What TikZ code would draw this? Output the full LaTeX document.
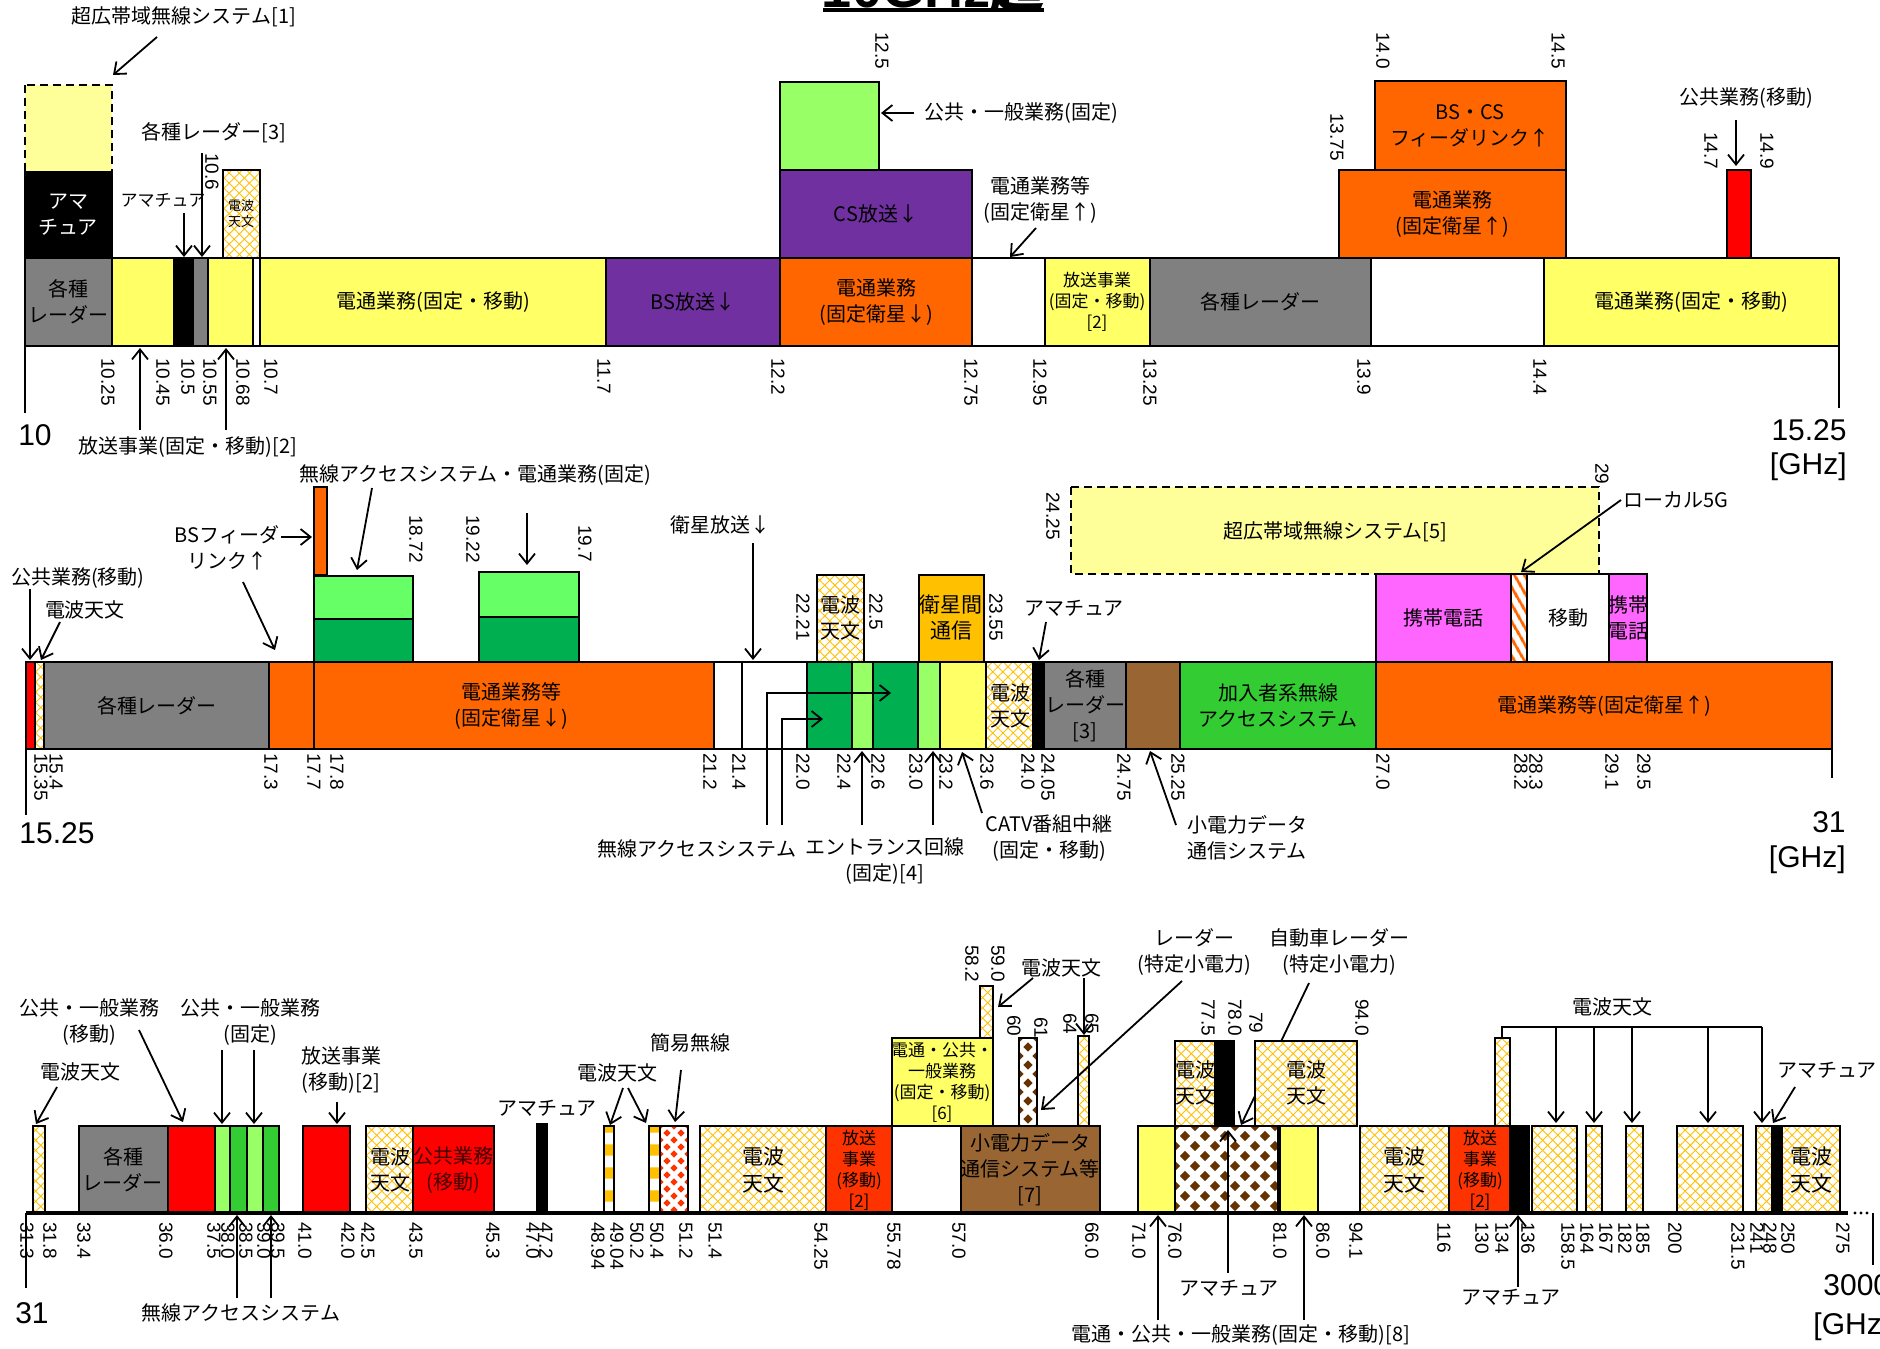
\documentclass[tikz,border=0pt]{standalone}
\usepackage{fontspec}
\setmainfont{Liberation Sans}
\newfontfamily\jpfont{Noto Sans CJK JP}
\usepackage{tikz}
\usetikzlibrary{arrows.meta,patterns,patterns.meta}
\definecolor{bandyellow}{HTML}{FFFF66}
\definecolor{bandgray}{HTML}{808080}
\definecolor{bandpurple}{HTML}{7030A0}
\definecolor{bandorange}{HTML}{FF6600}
\definecolor{bandred}{HTML}{FF0000}
\definecolor{bandvermil}{HTML}{FF3300}
\definecolor{bandlime}{HTML}{99FF66}
\definecolor{bandlgreen}{HTML}{66FF66}
\definecolor{banddgreen}{HTML}{00B050}
\definecolor{bandgreen}{HTML}{33CC33}
\definecolor{bandbrown}{HTML}{996633}
\definecolor{banddbrown}{HTML}{663300}
\definecolor{bandpink}{HTML}{FF66FF}
\definecolor{bandgold}{HTML}{FFC000}
\definecolor{bandpale}{HTML}{FFFF99}
\definecolor{hatchc}{HTML}{FFC000}

% diamond lattice: x1,y1,x2,y2,colour,period
\newcommand{\diapat}[6]{%
  \begin{scope}
    \clip (#1,#2) rectangle (#3,#4);
    \fill[white] (#1,#2) rectangle (#3,#4);
    \pgfmathtruncatemacro\dnx{(#3-#1)/#6+1}
    \pgfmathtruncatemacro\dny{(#4-#2)/#6+1}
    \foreach \i in {0,...,\dnx}{
      \foreach \j in {0,...,\dny}{
        \fill[#5] ({#1+\i*#6},{#2+\j*#6-0.26*#6}) -- ++(0.26*#6,0.26*#6)
          -- ++(-0.26*#6,0.26*#6) -- ++(-0.26*#6,-0.26*#6) -- cycle;
        \fill[#5] ({#1+(\i+0.5)*#6},{#2+(\j+0.5)*#6-0.26*#6}) -- ++(0.26*#6,0.26*#6)
          -- ++(-0.26*#6,0.26*#6) -- ++(-0.26*#6,-0.26*#6) -- cycle;
      }}
  \end{scope}
  \draw[box] (#1,#2) rectangle (#3,#4);}

\begin{document}
\begin{tikzpicture}[
  x=0.5pt, y=-0.5pt,
  font=\jpfont\fontsize{10}{13}\selectfont,
  box/.style={draw=black, line width=1pt},
  dbox/.style={draw=black, line width=1pt, dash pattern=on 4pt off 2.5pt, fill=bandpale},
  radio/.style={preaction={fill=white},
    preaction={pattern={Lines[angle=45,distance=3.6pt,line width=.45pt]}, pattern color=hatchc},
    preaction={pattern={Lines[angle=-45,distance=3.6pt,line width=.45pt]}, pattern color=hatchc},
    draw=black, line width=1pt},
  chk/.style={preaction={fill=white}, preaction={pattern=checkerboard, pattern color=hatchc},
    draw=black, line width=1pt},
  stripe/.style={preaction={fill=white},
    preaction={pattern={Lines[angle=-60,distance=4pt,line width=1.5pt]}, pattern color=bandorange},
    draw=black, line width=1pt},
  lbl/.style={align=center, inner sep=0pt},
  sm/.style={font=\jpfont\fontsize{8.5}{10.5}\selectfont},
  num/.style={rotate=-90, anchor=west, inner sep=0pt, font=\normalfont\fontsize{9.5}{10}\selectfont},
  big/.style={inner sep=0pt, font=\normalfont\fontsize{15}{18}\selectfont},
  arr/.style={-{Straight Barb[length=5pt,width=8pt]}, line width=0.9pt},
]
\useasboundingbox (0,0) rectangle (1880,1349);
\node[anchor=base, inner sep=0pt, font=\normalfont\bfseries\fontsize{27}{30}\selectfont]
  (title) at (933,7) {10GHz{\jpfont 超}};
\draw[line width=1.8pt] (823,10) -- (1044,10);

% Row 1: 10 - 15.25 GHz
\draw[box, fill=bandgray] (25,258) rectangle (112,346);
\draw[box, fill=bandyellow] (112,258) rectangle (174,346);
\draw[box, fill=black] (174,258) rectangle (193,346);
\draw[box, fill=bandgray] (193,258) rectangle (208,346);
\draw[box, fill=bandyellow] (208,258) rectangle (253,346);
\draw[box, fill=white] (253,258) rectangle (260,346);
\draw[box, fill=bandyellow] (260,258) rectangle (606,346);
\draw[box, fill=bandpurple] (606,258) rectangle (780,346);
\draw[box, fill=bandorange] (780,258) rectangle (972,346);
\draw[box, fill=white] (972,258) rectangle (1045,346);
\draw[box, fill=bandyellow] (1045,258) rectangle (1150,346);
\draw[box, fill=bandgray] (1150,258) rectangle (1371,346);
\draw[box, fill=white] (1371,258) rectangle (1544,346);
\draw[box, fill=bandyellow] (1544,258) rectangle (1839,346);
\draw[dbox] (25,85) rectangle (112,172);
\draw[box, fill=black] (25,172) rectangle (112,258);
\draw[radio] (223,170) rectangle (260,258);
\draw[box, fill=bandlime] (780,82) rectangle (879,170);
\draw[box, fill=bandpurple] (780,170) rectangle (972,258);
\draw[box, fill=bandorange] (1339,170) rectangle (1566,258);
\draw[box, fill=bandorange] (1375,81) rectangle (1566,170);
\draw[box, fill=bandred] (1727,170) rectangle (1751,258);
\draw[line width=1pt] (25,346) -- (25,413);
\draw[line width=1pt] (1839,346) -- (1839,408);

\node[lbl] (r1gray) at (68,302) {各種\\レーダー};
\node[lbl, text=white] (r1ama) at (68,215) {アマ\\チュア};
\node[lbl, font=\jpfont\fontsize{6.5}{8}\selectfont] (r1ra) at (241,214) {電波\\天文};
\node[lbl] (r1fm) at (433,302) {電通業務(固定・移動)};
\node[lbl] (r1bs) at (693,302) {BS放送↓};
\node[lbl] (r1fsd) at (876,302) {電通業務\\(固定衛星↓)};
\node[lbl] (r1cs) at (876,214) {CS放送↓};
\node[lbl, sm] (r1bc) at (1097,302) {放送事業\\(固定・移動)\\{[2]}};
\node[lbl] (r1rad) at (1260,302) {各種レーダー};
\node[lbl] (r1fsu) at (1452,214) {電通業務\\(固定衛星↑)};
\node[lbl] (r1feed) at (1470,126) {BS・CS\\フィーダリンク↑};
\node[lbl] (r1fm2) at (1691,302) {電通業務(固定・移動)};

\node[lbl] (uwb1) at (184,17) {超広帯域無線システム[1]};
\draw[arr] (157,37) -- (113,75);
\node[lbl] (rad1) at (214,133) {各種レーダー[3]};
\node[lbl, sm] (ama1) at (163,200) {アマチュア};
\draw[arr] (184,213) -- (184,257);
\draw[arr] (202,153) -- (202,257);
\node[lbl] (bc1) at (188,447) {放送事業(固定・移動)[2]};
\draw[arr] (140,430) -- (140,348);
\draw[arr] (226,430) -- (226,348);
\node[lbl] (pub1) at (1021,113) {公共・一般業務(固定)};
\draw[arr] (914,113) -- (881,113);
\node[lbl] (fsu1) at (1040,200) {電通業務等\\(固定衛星↑)};
\draw[arr] (1036,228) -- (1010,257);
\node[lbl] (pubm1) at (1746,98) {公共業務(移動)};
\draw[arr] (1736,120) -- (1736,166);

\foreach \x/\t in {108/10.25,163/10.45,188/10.5,210/10.55,243/10.68,271/10.7,604/11.7,
  778/12.2,971/12.75,1040/12.95,1150/13.25,1364/13.9,1540/14.4}
  \node[num] (r1b\x) at (\x,358) {\t};
\foreach \x/\y/\t in {212/153/10.6,882/32/12.5,1383/32/14.0,1558/32/14.5,1337/113/13.75,
  1711/132/14.7,1767/132/14.9}
  \node[num] (r1u\x) at (\x,\y) {\t};
\node[big] (r1lo) at (35,435) {10};
\node[big, anchor=east] (r1hi) at (1847,430) {15.25};
\node[big, anchor=east] (r1ghz) at (1847,467) {[GHz]};

% Row 2: 15.25 - 31 GHz
\draw[dbox] (1071,487) rectangle (1599,574);
\draw[box, fill=bandred] (26,662) rectangle (35,749);
\draw[radio] (35,662) rectangle (44,749);
\draw[box, fill=bandgray] (44,662) rectangle (269,749);
\draw[box, fill=bandorange] (269,662) rectangle (314,749);
\draw[box, fill=bandorange] (314,662) rectangle (714,749);
\draw[box, fill=white] (714,662) rectangle (742,749);
\draw[box, fill=white] (742,662) rectangle (807,749);
\draw[box, fill=banddgreen] (807,662) rectangle (852,749);
\draw[box, fill=bandlime] (852,662) rectangle (873,749);
\draw[box, fill=banddgreen] (873,662) rectangle (918,749);
\draw[box, fill=bandlime] (918,662) rectangle (940,749);
\draw[box, fill=bandyellow] (940,662) rectangle (986,749);
\draw[radio] (986,662) rectangle (1033,749);
\draw[box, fill=black] (1033,662) rectangle (1044,749);
\draw[box, fill=bandgray] (1044,662) rectangle (1126,749);
\draw[box, fill=bandbrown] (1126,662) rectangle (1180,749);
\draw[box, fill=bandgreen] (1180,662) rectangle (1376,749);
\draw[box, fill=bandorange] (1376,662) rectangle (1832,749);
\draw[box, fill=bandorange] (314,487) rectangle (327,575);
\draw[box, fill=bandlgreen] (314,576) rectangle (413,619);
\draw[box, fill=banddgreen] (314,619) rectangle (413,662);
\draw[box, fill=bandlgreen] (479,572) rectangle (579,617);
\draw[box, fill=banddgreen] (479,617) rectangle (579,662);
\draw[radio] (817,575) rectangle (864,662);
\draw[box, fill=bandgold] (919,575) rectangle (984,662);
\draw[box, fill=bandpink] (1376,574) rectangle (1511,662);
\draw[stripe] (1511,574) rectangle (1527,662);
\draw[box, fill=white] (1527,574) rectangle (1609,662);
\draw[box, fill=bandpink] (1609,574) rectangle (1647,662);
\draw[line width=1pt] (26,749) -- (26,815);
\draw[line width=1pt] (1832,749) -- (1832,778);

\node[lbl] (r2rad) at (157,706) {各種レーダー};
\node[lbl] (r2fsd) at (511,706) {電通業務等\\(固定衛星↓)};
\node[lbl] (r2ra) at (1010,706) {電波\\天文};
\node[lbl] (r2rad3) at (1085,706) {各種\\レーダー\\{[3]}};
\node[lbl] (r2fwa) at (1278,706) {加入者系無線\\アクセスシステム};
\node[lbl] (r2fsu) at (1604,706) {電通業務等(固定衛星↑)};
\node[lbl] (r2ra2) at (840,618) {電波\\天文};
\node[lbl, font=\jpfont\fontsize{10.5}{13}\selectfont] (r2isl) at (951,618) {衛星間\\通信};
\node[lbl] (uwb5) at (1335,532) {超広帯域無線システム[5]};
\node[lbl] (r2mob) at (1443,618) {携帯電話};
\node[lbl] (r2mv) at (1568,618) {移動};
\node[lbl] (r2mob2) at (1628,618) {携帯\\電話};

\node[lbl] (pubm2) at (78,578) {公共業務(移動)};
\draw[arr] (30,589) -- (30,660);
\node[lbl] (ra2) at (85,610) {電波天文};
\draw[arr] (60,622) -- (41,660);
\node[lbl] (feed2) at (227,548) {BSフィーダ\\リンク↑};
\draw[arr] (281,537) -- (312,537);
\draw[arr] (243,582) -- (275,650);
\node[lbl] (fwa2) at (475,475) {無線アクセスシステム・電通業務(固定)};
\draw[arr] (372,488) -- (357,570);
\draw[arr] (527,513) -- (527,565);
\node[lbl] (bs2) at (720,525) {衛星放送↓};
\draw[arr] (753,543) -- (753,660);
\node[lbl] (ama2) at (1074,608) {アマチュア};
\draw[arr] (1046,622) -- (1039,660);
\node[lbl] (fwa2b) at (697,849) {無線アクセスシステム};
\draw[arr] (767,825) |- (891,693);
\draw[arr] (782,825) |- (823,719);
\node[lbl] (ent2) at (885,861) {エントランス回線\\(固定)[4]};
\draw[arr] (862,825) -- (862,751);
\draw[arr] (933,825) -- (933,751);
\node[lbl] (catv2) at (1049,838) {CATV番組中継\\(固定・移動)};
\draw[arr] (982,813) -- (962,752);
\node[lbl] (sdc2) at (1247,838) {小電力データ\\通信システム};
\draw[arr] (1176,825) -- (1150,751);
\node[lbl] (l5g2) at (1676,500) {ローカル5G};
\draw[arr] (1621,500) -- (1521,572);

\foreach \x/\t in {41/15.35,56/15.4,271/17.3,314/17.7,337/17.8,710/21.2,739/21.4,803/22.0,
  844/22.4,878/22.6,916/23.0,946/23.2,987/23.6,1028/24.0,1048/24.05,1124/24.75,1178/25.25,
  1383/27.0,1521/28.2,1536/28.3,1612/29.1,1644/29.5}
  \node[num] (r2b\x) at (\x,753) {\t};
\foreach \x/\y/\t in {416/515/18.72,473/515/19.22,585/525/19.7,803/593/22.21,876/593/22.5,
  996/593/23.55,1053/492/24.25,1602/463/29}
  \node[num] (r2u\x) at (\x,\y) {\t};
\node[big] (r2lo) at (57,833) {15.25};
\node[big, anchor=east] (r2hi) at (1846,822) {31};
\node[big, anchor=east] (r2ghz) at (1846,860) {[GHz]};

% Row 3: 31 - 3000 GHz
\draw[arr] (1309,983) -- (1241,1125);
\draw[radio] (33,1126) rectangle (45,1213);
\draw[box, fill=bandgray] (79,1126) rectangle (168,1213);
\draw[box, fill=bandred] (168,1126) rectangle (215,1213);
\draw[box, fill=bandlime] (215,1126) rectangle (230,1213);
\draw[box, fill=bandgreen] (230,1126) rectangle (247,1213);
\draw[box, fill=bandlime] (247,1126) rectangle (263,1213);
\draw[box, fill=bandgreen] (263,1126) rectangle (279,1213);
\draw[box, fill=bandred] (303,1126) rectangle (350,1213);
\draw[radio] (366,1126) rectangle (413,1213);
\draw[box, fill=bandred] (413,1126) rectangle (494,1213);
\draw[box, fill=black] (537,1124) rectangle (547,1213);
\draw[chk] (604,1126) rectangle (614,1213);
\draw[chk] (649,1126) rectangle (660,1213);
\diapat{660}{1126}{688}{1213}{bandvermil}{14}
\draw[radio] (700,1126) rectangle (826,1213);
\draw[box, fill=bandvermil] (826,1126) rectangle (892,1213);
\draw[box, fill=bandyellow] (892,1038) rectangle (993,1126);
\draw[box, fill=bandbrown] (961,1126) rectangle (1100,1213);
\draw[radio] (980,986) rectangle (993,1038);
\diapat{1019}{1038}{1037}{1126}{banddbrown}{18}
\draw[radio] (1078,1036) rectangle (1089,1126);
\draw[box, fill=bandyellow] (1138,1126) rectangle (1175,1213);
\diapat{1175}{1126}{1278}{1213}{banddbrown}{20}
\draw[box, fill=bandyellow] (1280,1126) rectangle (1318,1213);
\draw[radio] (1175,1041) rectangle (1215,1126);
\draw[box, fill=black] (1215,1041) rectangle (1234,1126);
\draw[radio] (1255,1041) rectangle (1357,1126);
\draw[radio] (1360,1126) rectangle (1449,1213);
\draw[box, fill=bandvermil] (1449,1126) rectangle (1510,1213);
\draw[box, fill=black] (1510,1126) rectangle (1529,1213);
\draw[radio] (1495,1038) rectangle (1510,1126);
\draw[radio] (1532,1126) rectangle (1577,1213);
\draw[radio] (1586,1126) rectangle (1602,1213);
\draw[radio] (1626,1126) rectangle (1643,1213);
\draw[radio] (1677,1126) rectangle (1743,1213);
\draw[radio] (1756,1126) rectangle (1772,1213);
\draw[box, fill=black] (1772,1126) rectangle (1782,1213);
\draw[radio] (1782,1126) rectangle (1840,1213);
\draw[line width=2pt] (26,1213) -- (1848,1213);
\foreach \x in {1855,1861,1867} \fill (\x,1213) circle[radius=1.6];
\draw[line width=1pt] (26,1213) -- (26,1288);
\draw[line width=1pt] (1873,1213) -- (1873,1265);

\node[lbl] (r3rad) at (123,1170) {各種\\レーダー};
\node[lbl] (r3ra1) at (390,1170) {電波\\天文};
\node[lbl, text=black!75!red] (r3pub) at (453,1170) {公共業務\\(移動)};
\node[lbl, font=\jpfont\fontsize{10.5}{13.5}\selectfont] (r3ra2) at (763,1170) {電波\\天文};
\node[lbl, sm] (r3bc1) at (859,1170) {放送\\事業\\(移動)\\{[2]}};
\node[lbl, sm] (r3tel6) at (942,1082) {電通・公共・\\一般業務\\(固定・移動)\\{[6]}};
\node[lbl] (r3sdc) at (1030,1170) {小電力データ\\通信システム等\\{[7]}};
\node[lbl] (r3ra3) at (1195,1083) {電波\\天文};
\node[lbl] (r3ra4) at (1306,1083) {電波\\天文};
\node[lbl, font=\jpfont\fontsize{10.5}{13.5}\selectfont] (r3ra5) at (1404,1170) {電波\\天文};
\node[lbl, sm] (r3bc2) at (1480,1170) {放送\\事業\\(移動)\\{[2]}};
\node[lbl, font=\jpfont\fontsize{10.5}{13.5}\selectfont] (r3ra6) at (1811,1170) {電波\\天文};

\node[lbl] (ra3a) at (80,1072) {電波天文};
\draw[arr] (57,1087) -- (36,1124);
\node[lbl] (pubm3) at (89,1022) {公共・一般業務\\(移動)};
\draw[arr] (139,1030) -- (183,1122);
\node[lbl] (pubf3) at (250,1022) {公共・一般業務\\(固定)};
\draw[arr] (222,1050) -- (222,1124);
\draw[arr] (254,1050) -- (254,1124);
\node[lbl] (bc3) at (341,1070) {放送事業\\(移動)[2]};
\draw[arr] (337,1102) -- (337,1124);
\node[lbl] (ama3a) at (547,1108) {アマチュア};
\node[lbl] (fwa3) at (241,1313) {無線アクセスシステム};
\draw[arr] (237,1298) -- (237,1215);
\draw[arr] (271,1298) -- (271,1215);
\node[lbl] (ra3b) at (617,1073) {電波天文};
\draw[arr] (623,1088) -- (610,1125);
\draw[arr] (628,1088) -- (646,1123);
\node[lbl] (smp3) at (690,1043) {簡易無線};
\draw[arr] (681,1070) -- (675,1122);
\node[lbl] (ra3c) at (1061,968) {電波天文};
\draw[arr] (1033,978) -- (998,1007);
\draw[arr] (1084,978) -- (1084,1035);
\node[lbl] (srd3) at (1194,952) {レーダー\\(特定小電力)};
\draw[arr] (1182,981) -- (1041,1110);
\node[lbl] (car3) at (1339,952) {自動車レーダー\\(特定小電力)};
\node[lbl] (ama3b) at (1229,1288) {アマチュア};
\draw[arr] (1228,1273) -- (1228,1130);
\node[lbl] (tel8) at (1241,1335) {電通・公共・一般業務(固定・移動)[8]};
\draw[arr] (1158,1320) -- (1158,1215);
\draw[arr] (1304,1320) -- (1304,1215);
\node[lbl] (ama3c) at (1511,1297) {アマチュア};
\draw[arr] (1518,1287) -- (1518,1215);
\node[lbl] (ra3d) at (1612,1007) {電波天文};
\draw[line width=0.9pt] (1502,1038) -- (1502,1027) -- (1762,1027);
\foreach \x in {1556,1594,1632,1708,1762} \draw[arr] (\x,1027) -- (\x,1123);
\node[lbl] (ama3d) at (1827,1070) {アマチュア};
\draw[arr] (1795,1087) -- (1773,1123);

\foreach \x/\t in {27/31.3,50/31.8,84/33.4,166/36.0,214/37.5,228/38.0,246/38.5,264/39.0,
  278/39.5,305/41.0,348/42.0,368/42.5,416/43.5,493/45.3,533/47.0,546/47.2,598/48.94,
  617/49.04,637/50.2,657/50.4,686/51.2,715/51.4,821/54.25,894/55.78,959/57.0,1092/66.0,
  1139/71.0,1175/76.0,1280/81.0,1323/86.0,1356/94.1,1444/116,1482/130,1502/134,1528/136,
  1568/158.5,1587/164,1606/167,1625/182,1643/185,1675/200,1738/231.5,1757/241,1770/248,
  1788/250,1843/275}
  \node[num] (r3b\x) at (\x,1222) {\t};
\foreach \x/\y/\t in {972/945/58.2,998/945/59.0,1014/1015/60,1041/1017/61,1070/1013/64,
  1092/1013/65,1208/999/77.5,1235/999/78.0,1256/1012/79,1362/999/94.0}
  \node[num] (r3u\x) at (\x,\y) {\t};
\node[big] (r3lo) at (32,1313) {31};
\node[big, anchor=west] (r3hi) at (1823,1285) {3000};
\node[big, anchor=west] (r3ghz) at (1813,1327) {[GHz]};
\end{tikzpicture}
\end{document}
